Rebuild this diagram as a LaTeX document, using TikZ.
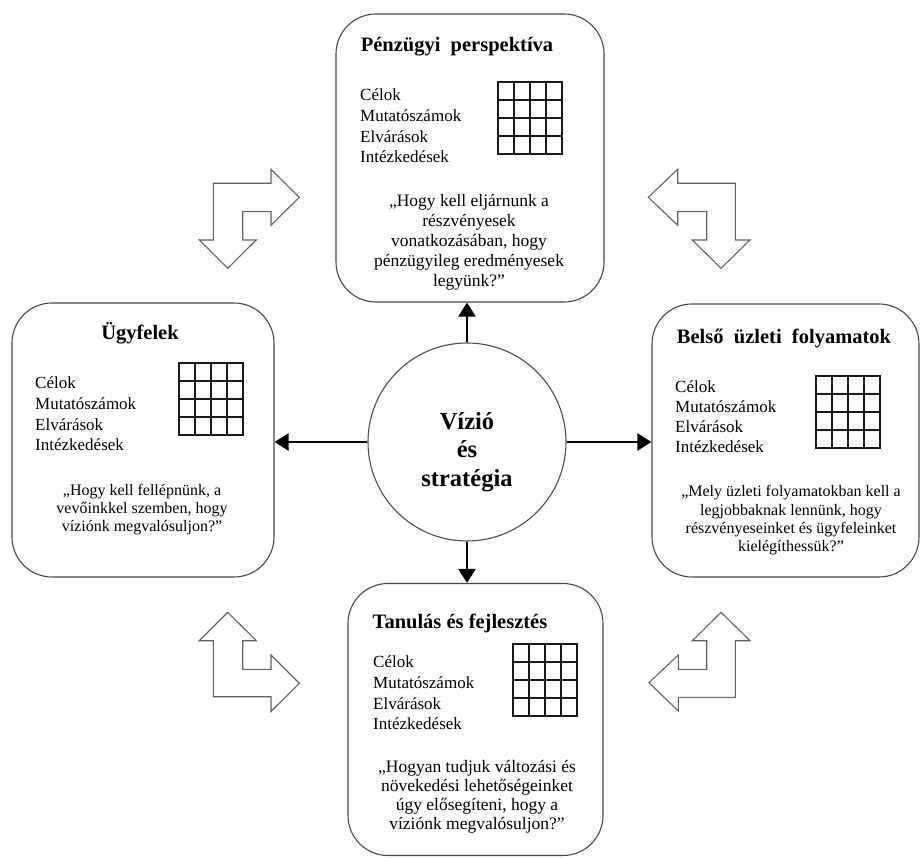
\documentclass[tikz,border=0pt]{standalone}
\usepackage{fontspec}
\setmainfont{Liberation Serif}
\usetikzlibrary{arrows.meta}
\begin{document}
\begin{tikzpicture}[x=1pt,y=-1pt,
  box/.style={draw=black!72, line width=1.1pt, rounded corners=40pt, fill=white, inner sep=0pt},
  ttl/.style={font=\fontsize{20.5}{24}\selectfont\bfseries, inner sep=0pt},
  lst/.style={font=\fontsize{17}{20.7}\selectfont, align=left, anchor=west, inner sep=0pt},
  qt/.style={align=center, inner sep=0pt},
  conn/.style={line width=2.3pt, -{Triangle[length=14pt,width=17pt]}},
  bent/.style={draw=black!62, line width=1.1pt, fill=white, line join=miter},
  gridline/.style={line width=1.05pt, black!90, line cap=rect},
  tablegrid/.pic={\foreach \i in {0,...,4}{\draw[gridline] (\i*16,0) -- (\i*16,72); \draw[gridline] (0,\i*18) -- (64,\i*18);}}
]
\useasboundingbox[fill=white] (0,0) rectangle (922,858);

% boxes
\node[box, minimum width=268pt, minimum height=288pt] (fin) at (470,158) {};
\node[box, minimum width=262pt, minimum height=274pt] (cust) at (143,440) {};
\node[box, minimum width=267pt, minimum height=273pt] (proc) at (785.5,440.5) {};
\node[box, minimum width=255pt, minimum height=272pt] (learn) at (475.5,719.5) {};

% top box
\node[ttl] (fint) at (457,47) {Pénzügyi\ \ perspektíva};
\node[lst] (finl) at (360,126) {Célok\\Mutatószámok\\Elvárások\\Intézkedések};
\pic at (498,82) {tablegrid};
\node[qt, font=\fontsize{17.5}{20}\selectfont] (finq) at (469,242) {„Hogy kell eljárnunk a\\részvényesek\\vonatkozásában, hogy\\pénzügyileg eredményesek\\legyünk?”};

% left box
\node[ttl] (custt) at (140,333) {Ügyfelek};
\node[lst] (custl) at (35,414) {Célok\\Mutatószámok\\Elvárások\\Intézkedések};
\pic at (179,363) {tablegrid};
\node[qt, font=\fontsize{16}{17.7}\selectfont] (custq) at (142,509.5) {„Hogy kell fellépnünk, a\\vevőinkkel szemben, hogy\\víziónk megvalósuljon?”};

% right box
\node[ttl] (proct) at (784,338) {Belső\ \ üzleti\ \ folyamatok};
\node[lst, font=\fontsize{17}{20}\selectfont] (procl) at (675,417) {Célok\\Mutatószámok\\Elvárások\\Intézkedések};
\pic at (816,376) {tablegrid};
\node[qt, font=\fontsize{16}{18.3}\selectfont] (procq) at (791,520.5) {„Mely üzleti folyamatokban kell a\\legjobbaknak lennünk, hogy\\részvényeseinket és ügyfeleinket\\kielégíthessük?”};

% bottom box
\node[ttl] (learnt) at (460,623) {Tanulás és fejlesztés};
\node[lst] (learnl) at (373,693) {Célok\\Mutatószámok\\Elvárások\\Intézkedések};
\pic at (513,644) {tablegrid};
\node[qt, font=\fontsize{17.5}{19}\selectfont] (learnq) at (477,796.5) {„Hogyan tudjuk változási és\\növekedési lehetőségeinket\\úgy elősegíteni, hogy a\\víziónk megvalósuljon?”};

% centre
\node[circle, draw=black!70, line width=1.1pt, fill=white, minimum size=198pt, inner sep=0pt] (vis) at (467,442) {};
\node[align=center, inner sep=0pt, font=\fontsize{24.5}{28.5}\selectfont\bfseries] (vist) at (467,452) {Vízió\\és\\stratégia};

% connectors
\draw[conn] (vis.north) -- (vis.north |- fin.south);
\draw[conn] (vis.west) -- (vis.west -| cust.east);
\draw[conn] (vis.east) -- (vis.east -| proc.west);
\draw[conn] (vis.south) -- (vis.south |- learn.north);

% bent arrows
\draw[bent] (213.3,240) -- (199.3,240) -- (227.7,268.3) -- (256.3,240) -- (242.7,240) -- (242.7,211.7) -- (271,211.7) -- (271,225.3) -- (299.3,197.3) -- (271,169.3) -- (271,183.3) -- (213.3,183.3) -- cycle;
\draw[bent] (648.3,197.3) -- (677.7,169.3) -- (677.7,183.3) -- (735.3,183.3) -- (735.3,240) -- (750,240) -- (721,268.3) -- (692.3,240) -- (706.7,240) -- (706.7,211.7) -- (677.7,211.7) -- (677.7,225.3) -- cycle;
\draw[bent] (227.7,612.3) -- (256.3,640.7) -- (242.7,640.7) -- (242.7,669.3) -- (271,669.3) -- (271,655) -- (299.3,683.3) -- (271,711.5) -- (271,696.7) -- (213.3,696.7) -- (213.3,640.7) -- (199.3,640.7) -- cycle;
\draw[bent] (721,612.3) -- (750,640.7) -- (735.3,640.7) -- (735.3,697.3) -- (678.3,697.3) -- (678.3,711) -- (649,682.7) -- (678.3,655) -- (678.3,669.3) -- (706.7,669.3) -- (706.7,640.7) -- (692.3,640.7) -- cycle;
\end{tikzpicture}
\end{document}
